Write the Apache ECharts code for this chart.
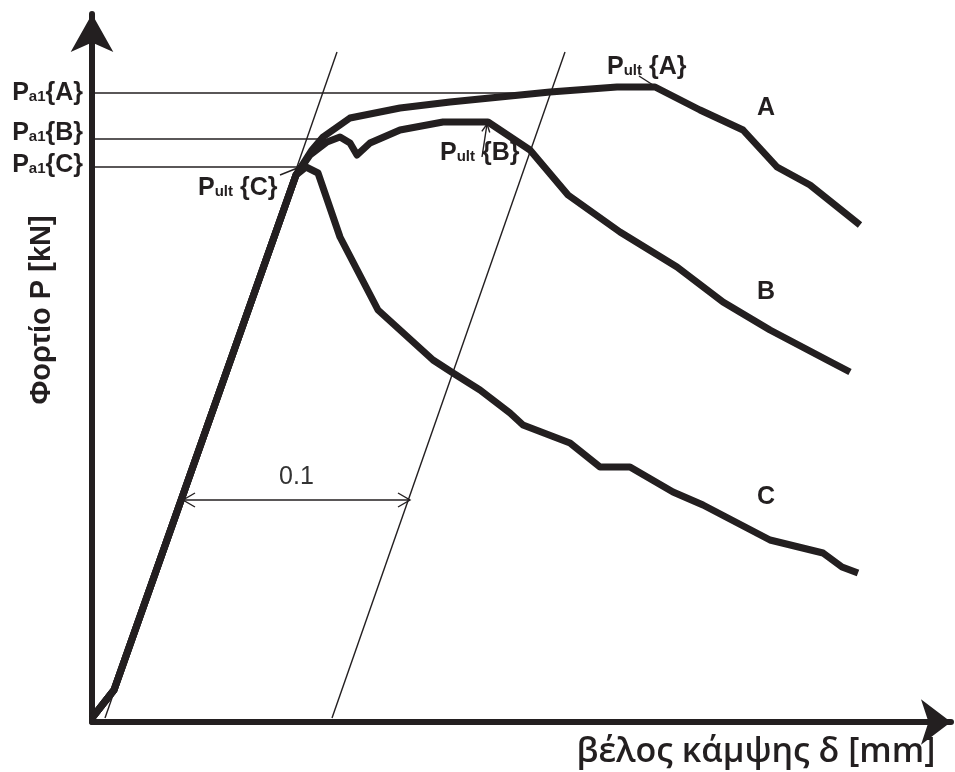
<!DOCTYPE html>
<html>
<head>
<meta charset="utf-8">
<script src="https://cdn.jsdelivr.net/npm/echarts@6/dist/echarts.min.js"></script>
<style>
html,body{margin:0;padding:0;background:#fff}
#main{width:955px;height:772px}
</style>
</head>
<body>
<div id="main"></div>
<script>
// καμπύλες φορτίου - βέλους (σχηματικές τιμές)
var curveA = [[0,0],[0.22,0.28],[2.04,5.43],[2.20,5.68],[2.31,5.81],[2.58,6.00],[3.08,6.10],[3.58,6.16],[4.58,6.26],[5.25,6.31],[5.63,6.31],[6.08,6.08],[6.51,5.88],[6.85,5.51],[7.18,5.33],[7.68,4.93]];
var curveB = [[0,0],[0.22,0.28],[2.04,5.43],[2.18,5.63],[2.35,5.76],[2.48,5.81],[2.58,5.75],[2.65,5.63],[2.78,5.75],[3.08,5.88],[3.51,5.96],[3.96,5.96],[4.38,5.68],[4.76,5.23],[5.28,4.86],[5.85,4.51],[6.31,4.16],[6.78,3.88],[7.35,3.58],[7.58,3.46]];
var curveC = [[0,0],[0.22,0.28],[2.04,5.43],[2.14,5.51],[2.26,5.45],[2.48,4.81],[2.86,4.08],[3.41,3.58],[3.61,3.45],[3.88,3.28],[4.18,3.05],[4.31,2.93],[4.78,2.75],[5.08,2.51],[5.38,2.51],[5.81,2.26],[6.11,2.13],[6.78,1.78],[7.31,1.65],[7.50,1.51],[7.66,1.45]];

// στάθμες Pa1
var pa1Names = ['A','B','C'];
var pa1Values = [6.25, 5.79, 5.51];
var pa1Reach = [4.53, 2.31, 2.05];

// παράλληλες ευθείες (offset 0.1)
var offsetLine1 = [[0.13,0],[2.45,6.66]];
var offsetLine2 = [[2.40,0],[4.73,6.66]];
var offsetSpan = [0.91, 3.18, 2.18]; // x από, x έως, y
var offsetText = '0.1';

// οριακά φορτία Pult
var ultNames = ['A','B','C'];
var ultLeaders = [[5.47,6.42,5.61,6.33],[3.90,5.61,3.95,5.94],[1.88,5.43,2.08,5.51]];
var ultTextAt = [[5.15,6.51],[3.48,5.65],[1.06,5.30]];

// ονόματα καμπυλών
var curveNames = ['A','B','C'];
var curveNameAt = [[6.74,6.10],[6.74,4.26],[6.74,2.21]];

var ink = '#231f20';
var fam = '"Liberation Sans", Arial, sans-serif';
var pa1Shift = [0,-6,-2];

var chart = echarts.init(document.getElementById('main'));

function chevron(tip, from, len, half){
    var dx = from[0]-tip[0], dy = from[1]-tip[1];
    var L = Math.sqrt(dx*dx+dy*dy), ux = dx/L, uy = dy/L;
    return {
        type:'polyline',
        shape:{points:[[tip[0]+ux*len-uy*half, tip[1]+uy*len+ux*half],[tip[0],tip[1]],[tip[0]+ux*len+uy*half, tip[1]+uy*len-ux*half]]},
        style:{stroke:ink, lineWidth:1.4, fill:null}
    };
}
function arrowItem(params, api){
    var a = api.coord([api.value(0), api.value(1)]);
    var b = api.coord([api.value(2), api.value(3)]);
    var heads = api.value(4);
    var kids = [{type:'line', shape:{x1:a[0],y1:a[1],x2:b[0],y2:b[1]}, style:{stroke:ink, lineWidth:1.4}}];
    if (heads == 2) {
        kids.push(chevron(b, a, 12, 7));
        kids.push(chevron(a, b, 12, 7));
    } else if (heads == 1) {
        kids.push(chevron(b, a, 8, 4));
    }
    return {type:'group', children:kids};
}

var bigRich = {
    p:{fontSize:25, fontWeight:'bold', fontFamily:fam, color:ink, lineHeight:28},
    s:{fontSize:15, fontWeight:'bold', fontFamily:fam, color:ink, lineHeight:28, verticalAlign:'bottom', padding:[0,0,3,0]}
};

var series = [];
[curveA, curveB, curveC].forEach(function(c){
    series.push({type:'line', data:c, symbol:'none', silent:true,
        lineStyle:{color:ink, width:7, join:'round'}});
});
pa1Names.forEach(function(n, i){
    series.push({type:'line', symbol:'none', silent:true,
        lineStyle:{color:ink, width:1.5},
        data:[[0, pa1Values[i]], [pa1Reach[i], pa1Values[i]]]
    });
});
[offsetLine1, offsetLine2].forEach(function(l){
    series.push({type:'line', data:l, symbol:'none', silent:true, lineStyle:{color:ink, width:1.4}});
});
var arrowData = [[offsetSpan[0], offsetSpan[2], offsetSpan[1], offsetSpan[2], 2]];
ultLeaders.forEach(function(l, i){ arrowData.push(l.concat([i == 1 ? 1 : 0])); });
series.push({type:'custom', renderItem:arrowItem, data:arrowData, silent:true, encode:{x:[0,2], y:[1,3]}});

var textData = [];
pa1Names.forEach(function(n, i){
    textData.push({value:[0, pa1Values[i]], label:{position:'left', distance:9, offset:[0, pa1Shift[i]],
        formatter:'{p|P}{s|a1}{' + n + '}'}});
});
ultNames.forEach(function(n, i){
    textData.push({value:ultTextAt[i], label:{position:'right', distance:0,
        formatter:'{p|P}{s|ult} {' + n + '}'}});
});
curveNames.forEach(function(n, i){
    textData.push({value:curveNameAt[i], label:{position:'inside', formatter:n, fontSize:25}});
});
textData.push({value:[(offsetSpan[0]+offsetSpan[1])/2, offsetSpan[2]+0.23],
    label:{position:'inside', formatter:offsetText, fontWeight:'normal', fontSize:25, color:'#333'}});
series.push({type:'scatter', symbolSize:0, silent:true, clip:false, data:textData,
    itemStyle:{opacity:1},
    label:{show:true, fontSize:25, fontWeight:'bold', fontFamily:fam, color:ink, lineHeight:28, rich:bigRich}});

chart.setOption({
    animation:false,
    backgroundColor:'#fff',
    grid:{left:92, right:4, top:14, bottom:50},
    xAxis:{type:'value', min:0, max:8.59,
        axisLine:{onZero:false, symbol:['none','arrow'], symbolSize:[34,30], lineStyle:{color:ink, width:6}},
        axisTick:{show:false}, axisLabel:{show:false}, splitLine:{show:false}},
    yAxis:{type:'value', min:-0.04, max:7.04,
        axisLine:{show:true, symbol:['none','arrow'], symbolSize:[32,38], lineStyle:{color:ink, width:6}},
        axisTick:{show:false}, axisLabel:{show:false}, splitLine:{show:false}},
    graphic:[
        {type:'text', x:42, y:310, rotation:Math.PI/2,
            style:{text:'Φορτίο P [kN]', font:'bold 29px ' + fam, fill:ink, align:'center', verticalAlign:'middle'}},
        {type:'text', x:756, y:752,
            style:{text:'βέλος κάμψης δ [mm]', font:'600 34px "Open Sans", sans-serif', fill:ink, align:'center', verticalAlign:'middle'}}
    ],
    series:series
});
</script>
</body>
</html>
